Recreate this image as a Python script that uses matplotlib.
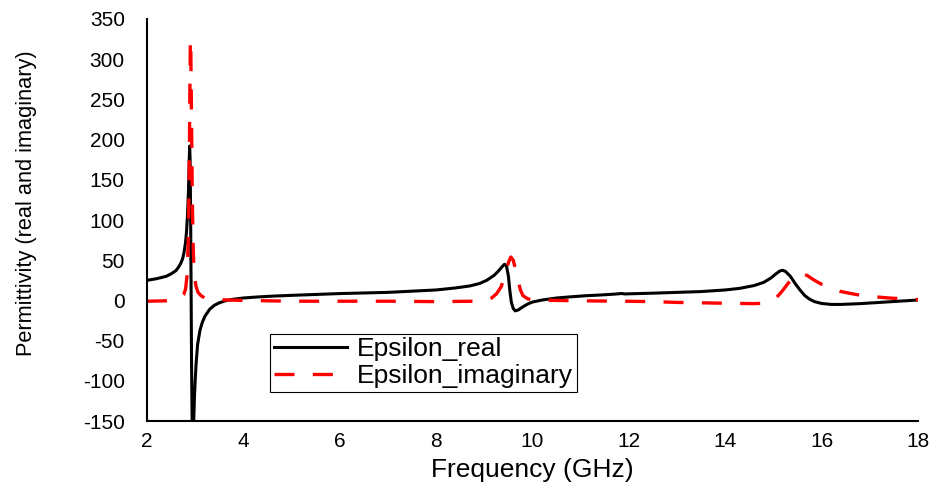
import matplotlib.pyplot as plt
from matplotlib import ticker

# values
freq_real = [2.0, 2.2, 2.4, 2.5, 2.6, 2.65, 2.7, 2.74, 2.77, 2.8, 2.82, 2.84, 2.86, 2.875,
             2.885, 2.895, 2.905, 2.915, 2.925, 2.94, 2.955, 2.97, 2.985, 3.0, 3.02, 3.05,
             3.1, 3.15, 3.2, 3.3, 3.4, 3.5, 3.65, 3.8, 4.0, 4.3, 4.6, 5.0, 6.0, 7.0, 8.0,
             8.4, 8.7, 8.9, 9.05, 9.2, 9.3, 9.37, 9.42, 9.46, 9.5, 9.53, 9.56, 9.6, 9.64,
             9.7, 9.8, 9.9, 10.0, 10.2, 10.5, 10.8, 11.1, 11.4, 11.7, 11.85, 11.92, 12.0,
             12.5, 13.0, 13.5, 14.0, 14.3, 14.6, 14.8, 14.95, 15.05, 15.13, 15.19, 15.25,
             15.35, 15.45, 15.55, 15.65, 15.75, 15.85, 16.0, 16.2, 16.4, 16.8, 17.2, 17.6, 18.0]
eps_real = [25, 27, 30, 33, 37, 41, 46, 52, 60, 72, 85, 105, 135, 170,
            192, 175, 110, 20, -80, -170, -185, -150, -120, -100, -78, -55,
            -37, -27, -20, -11, -6, -3, 0, 1.5, 3, 4.3, 5.3, 6.3, 8.5, 10, 13,
            15.5, 18, 21, 25, 31, 37, 42, 45, 43, 30, 12, -2, -10, -13,
            -12, -8, -4.5, -2, 0.5, 3, 4.5, 5.8, 6.7, 7.8, 8.6, 8.0, 8.2,
            9, 10, 11, 13, 15, 18.5, 22.5, 28, 33, 36.5, 37.5, 36,
            30, 21, 13, 6, 1.5, -1.5, -3.8, -5, -5, -4, -2.5, -1, 0.5]

freq_imag = [2.0, 2.4, 2.6, 2.7, 2.76, 2.8, 2.83, 2.855, 2.875, 2.89, 2.9, 2.91, 2.925,
             2.94, 2.955, 2.97, 2.99, 3.02, 3.06, 3.12, 3.2, 3.4, 3.7, 4.0, 5.0, 6.0,
             7.0, 8.0, 8.8, 9.0, 9.15, 9.25, 9.35, 9.43, 9.5, 9.55, 9.6, 9.65, 9.7,
             9.75, 9.8, 9.9, 10.0, 10.5, 11.0, 11.9, 12.5, 13.0, 14.0, 14.6, 14.8,
             14.9, 15.0, 15.1, 15.2, 15.3, 15.4, 15.5, 15.6, 15.7, 15.85, 16.0, 16.2,
             16.4, 16.7, 17.0, 17.4, 18.0]
eps_imag = [-1, -0.5, 1, 3, 7, 14, 30, 70, 150, 260, 325, 310, 220,
            130, 75, 45, 28, 17, 10, 6, 3, 1.2, 0.5, 0, -1, -1,
            -1, -1.5, -1, 0, 3, 8, 17, 32, 47, 54, 50, 38, 24,
            13, 6, 2, 0.5, 0, -0.5, -1, -1.5, -2.5, -3.5, -4, -3.5,
            -2, 1, 6, 13, 21, 28, 32, 33, 31, 25, 20, 15,
            11, 7.5, 5, 3, 1]

x_ticks = [2, 4, 6, 8, 10, 12, 14, 16, 18]
y_ticks = [-150, -100, -50, 0, 50, 100, 150, 200, 250, 300, 350]

plt.rcParams['font.family'] = ['Liberation Sans', 'DejaVu Sans']
plt.rcParams['axes.unicode_minus'] = False

fig = plt.figure(figsize=(9.44, 4.93), dpi=100)
ax = fig.add_axes([0.1557, 0.146, 0.8168, 0.8155])

ax.plot(freq_real, eps_real, color='black', lw=2.2, label='Epsilon_real')
ax.plot(freq_imag, eps_imag, color='red', lw=2.4, dashes=(6, 5.5), label='Epsilon_imaginary')

ax.set_xlim(2, 18)
ax.set_ylim(-150, 350)
ax.xaxis.set_major_locator(ticker.FixedLocator(x_ticks))
ax.yaxis.set_major_locator(ticker.FixedLocator(y_ticks))
ax.spines[['right', 'top']].set_visible(False)
ax.spines[['left', 'bottom']].set_linewidth(1.5)
ax.tick_params(axis='both', length=0, labelsize=15)
ax.tick_params(axis='y', pad=16)
ax.tick_params(axis='x', pad=8)

ax.set_xlabel('Frequency (GHz)', fontsize=19, labelpad=5)
ax.set_ylabel('Permittivity (real and imaginary)', fontsize=15.7)
ax.yaxis.set_label_coords(-0.142, 0.542)

leg = ax.legend(loc='lower left', bbox_to_anchor=(0.159, 0.072), borderaxespad=0,
                fontsize=19, fancybox=False, edgecolor='black', framealpha=1,
                handlelength=2.8, borderpad=0.15, labelspacing=0.1, handletextpad=0.35)
leg.get_frame().set_linewidth(0.8)

fig.savefig('out.png', dpi=100)
